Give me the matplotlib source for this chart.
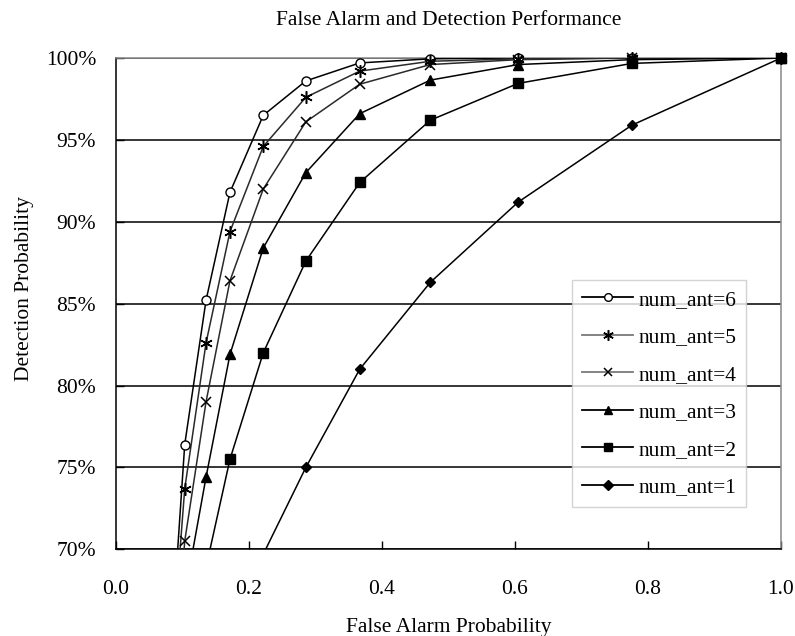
import numpy as np
import matplotlib
matplotlib.use("Agg")
import matplotlib.pyplot as plt
from matplotlib.ticker import FuncFormatter

plt.rcParams['font.family'] = ['Liberation Serif', 'DejaVu Serif']

false_alarm = [0.081, 0.104, 0.136, 0.172, 0.222, 0.286, 0.367, 0.473, 0.605, 0.776, 1.0]

det_ant6 = [62.5, 76.4, 85.2, 91.8, 96.5, 98.6, 99.7, 99.95, 100.0, 100.0, 100.0]
det_ant5 = [61.5, 73.7, 82.6, 89.4, 94.6, 97.6, 99.2, 99.8, 99.95, 100.0, 100.0]
det_ant4 = [58.0, 70.5, 79.0, 86.4, 92.0, 96.1, 98.4, 99.6, 99.9, 100.0, 100.0]
det_ant3 = [55.0, 67.2, 74.4, 81.9, 88.4, 93.0, 96.6, 98.65, 99.6, 99.9, 100.0]
det_ant2 = [50.0, 61.0, 68.9, 75.5, 82.0, 87.6, 92.4, 96.2, 98.45, 99.67, 100.0]
det_ant1 = [40.0, 50.0, 58.0, 63.0, 69.7, 75.0, 81.0, 86.3, 91.2, 95.9, 100.0]

labels = ["num_ant=6", "num_ant=5", "num_ant=4", "num_ant=3", "num_ant=2", "num_ant=1"]
series = [det_ant6, det_ant5, det_ant4, det_ant3, det_ant2, det_ant1]

title = "False Alarm and Detection Performance"
xlabel = "False Alarm Probability"
ylabel = "Detection Probability"
xticks = [0.0, 0.2, 0.4, 0.6, 0.8, 1.0]
yticks = [70, 75, 80, 85, 90, 95, 100]

styles = [
    dict(marker='o', mfc='white', mec='black', ms=6.5, color='black'),
    dict(marker=(6, 2, 0), mfc='black', mec='black', ms=9, mew=1.1, color='#2a2a2a'),
    dict(marker='x', mfc='black', mec='black', ms=7.5, mew=1.1, color='#2a2a2a'),
    dict(marker='^', mfc='black', mec='black', ms=7.5, color='black'),
    dict(marker='s', mfc='black', mec='black', ms=6.5, color='black'),
    dict(marker='D', mfc='black', mec='black', ms=5.5, color='black'),
]
legend_line_colors = ['black', '#7a7a7a', '#7a7a7a', 'black', 'black', 'black']

fig = plt.figure(figsize=(7.95, 6.36), dpi=100)
ax = fig.add_axes([0.1453, 0.1363, 0.8371, 0.7725])

xs = np.array(false_alarm)
ymin, ymax = 70, 100
handles = []
for ys, lab, st, lc in zip(series, labels, styles, legend_line_colors):
    ys = np.array(ys)
    ax.plot(xs, ys, color=st['color'], lw=1.1, zorder=3)
    vis = ys >= ymin
    ax.plot(xs[vis], ys[vis], ls='none', marker=st['marker'], mfc=st['mfc'],
            mec=st['mec'], ms=st['ms'], mew=st.get('mew', 1.0), clip_on=False, zorder=4)
    h, = ax.plot([], [], color=lc, lw=1.3, marker=st['marker'], mfc=st['mfc'],
                 mec=st['mec'], ms=st['ms'] * 0.85, mew=st.get('mew', 1.0))
    handles.append(h)

ax.set_xlim(0, 1.0)
ax.set_ylim(ymin, ymax)
ax.set_xticks(xticks)
ax.set_yticks(yticks)
ax.xaxis.set_major_formatter(FuncFormatter(lambda v, p: f"{v:.1f}"))
ax.yaxis.set_major_formatter(FuncFormatter(lambda v, p: f"{v:.0f}%"))
ax.tick_params(axis='x', direction='in', length=6, width=1, pad=22, labelsize=15.5)
ax.tick_params(axis='y', direction='in', length=6, width=1, pad=14, labelsize=15.5)
ax.yaxis.grid(True, color='black', lw=1.1)
ax.set_axisbelow(True)
for s in ['left', 'bottom']:
    ax.spines[s].set_color('black')
    ax.spines[s].set_linewidth(1.1)
for s in ['top', 'right']:
    ax.spines[s].set_color('#888888')
    ax.spines[s].set_linewidth(1.1)

ax.set_title(title, fontsize=15.5, pad=24)
ax.set_xlabel(xlabel, fontsize=15.5, labelpad=14)
ax.set_ylabel(ylabel, fontsize=15.5)
ax.yaxis.set_label_coords(-0.122, 0.53)

leg = ax.legend(handles, labels, loc='upper left', bbox_to_anchor=(0.686, 0.548),
                fontsize=15.5, frameon=True, fancybox=False, edgecolor='#c8c8c8',
                handlelength=2.4, handletextpad=0.25, labelspacing=0.81,
                borderpad=0.45, borderaxespad=0.0)
leg.get_frame().set_linewidth(1.0)

fig.savefig("out.png", dpi=100)
